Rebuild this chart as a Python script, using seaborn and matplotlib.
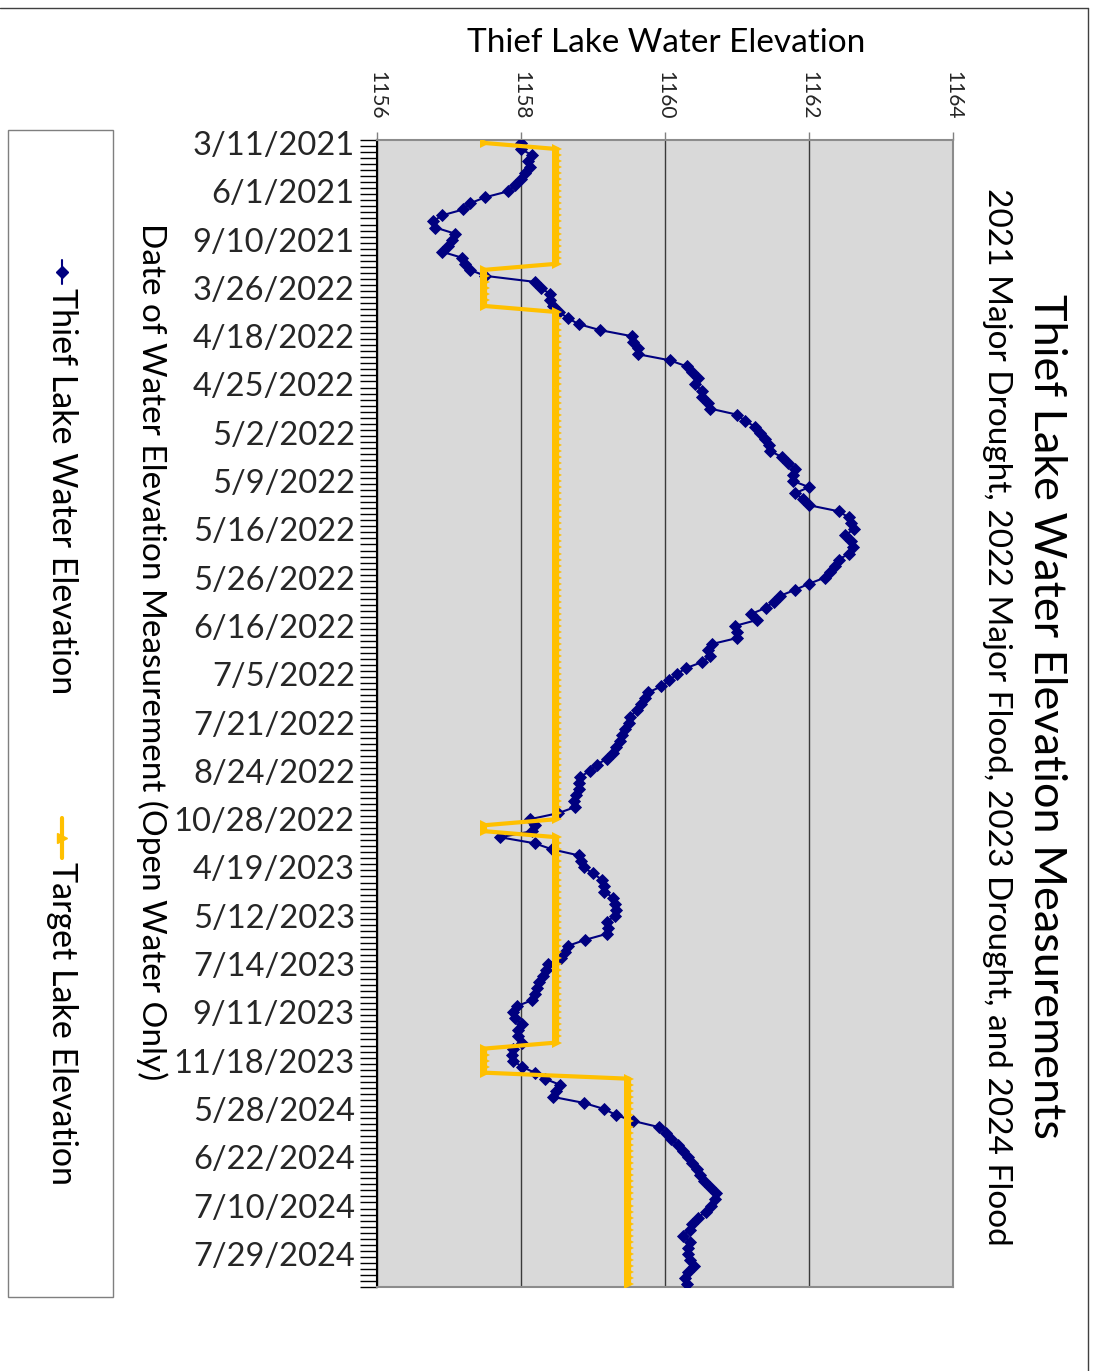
import numpy as np
import pandas as pd
import matplotlib
matplotlib.use("Agg")
import matplotlib.pyplot as plt
import seaborn as sns
from matplotlib.lines import Line2D
from matplotlib.patches import Rectangle

# Measured lake elevations (ft), one per open-water survey, in survey order
lake_elevation = [
    1158.00, 1158.00, 1158.15, 1158.10, 1158.13, 1158.06, 1158.00, 1157.92, 1157.82, 1157.50,
    1157.29, 1157.20, 1156.90, 1156.78, 1156.81, 1157.08, 1157.04, 1156.99, 1156.90, 1157.18,
    1157.22, 1157.29, 1157.50, 1158.19, 1158.28, 1158.40, 1158.40, 1158.45, 1158.53, 1158.65,
    1158.80, 1159.10, 1159.54, 1159.56, 1159.63, 1159.63, 1160.07, 1160.30, 1160.37, 1160.46,
    1160.42, 1160.51, 1160.51, 1160.60, 1160.63, 1161.00, 1161.11, 1161.25, 1161.32, 1161.39,
    1161.44, 1161.46, 1161.62, 1161.71, 1161.81, 1161.78, 1161.78, 1162.00, 1161.81, 1161.91,
    1162.00, 1162.41, 1162.55, 1162.59, 1162.62, 1162.50, 1162.59, 1162.61, 1162.56, 1162.41,
    1162.36, 1162.29, 1162.22, 1162.00, 1161.81, 1161.60, 1161.51, 1161.40, 1161.20, 1161.28,
    1160.97, 1161.00, 1161.00, 1160.65, 1160.60, 1160.63, 1160.51, 1160.29, 1160.16, 1160.06,
    1159.95, 1159.77, 1159.72, 1159.66, 1159.61, 1159.51, 1159.50, 1159.44, 1159.40, 1159.38,
    1159.32, 1159.28, 1159.19, 1159.05, 1158.96, 1158.82, 1158.80, 1158.80, 1158.76, 1158.73,
    1158.75, 1158.52, 1158.13, 1158.19, 1158.15, 1157.71, 1158.19, 1158.43, 1158.80, 1158.84,
    1158.87, 1159.00, 1159.12, 1159.15, 1159.15, 1159.28, 1159.31, 1159.32, 1159.31, 1159.19,
    1159.21, 1159.19, 1158.89, 1158.65, 1158.61, 1158.56, 1158.38, 1158.35, 1158.31, 1158.25,
    1158.22, 1158.19, 1158.15, 1157.94, 1157.89, 1157.92, 1158.01, 1157.96, 1157.96, 1158.01,
    1157.89, 1157.87, 1157.89, 1158.01, 1158.19, 1158.33, 1158.54, 1158.49, 1158.44, 1158.87,
    1159.15, 1159.32, 1159.56, 1159.91, 1160.02, 1160.09, 1160.18, 1160.25, 1160.32, 1160.38,
    1160.44, 1160.49, 1160.54, 1160.62, 1160.71, 1160.69, 1160.64, 1160.57, 1160.46, 1160.37,
    1160.35, 1160.25, 1160.35, 1160.32, 1160.32, 1160.35, 1160.40, 1160.32, 1160.28, 1160.30,
]

# Management target for each survey: fall drawdown, summer level, 2024 raised level
target_elevation = ([1157.5] + [1158.5] * 20 + [1157.5] * 7 + [1158.5] * 85
                    + [1157.5] * 2 + [1158.5] * 35 + [1157.5] * 5 + [1159.5] * 35)

# Survey dates shown on the category axis (every 8th survey)
date_labels = ["3/11/2021", "6/1/2021", "9/10/2021", "3/26/2022", "4/18/2022",
               "4/25/2022", "5/2/2022", "5/9/2022", "5/16/2022", "5/26/2022",
               "6/16/2022", "7/5/2022", "7/21/2022", "8/24/2022", "10/28/2022",
               "4/19/2023", "5/12/2023", "7/14/2023", "9/11/2023", "11/18/2023",
               "5/28/2024", "6/22/2024", "7/10/2024", "7/29/2024"]
label_step = 8

elevation_ticks = [1156, 1158, 1160, 1162, 1164]

n = len(lake_elevation)
df = pd.DataFrame({
    "survey": np.arange(n),
    "Thief Lake Water Elevation": lake_elevation,
    "Target Lake Elevation": target_elevation,
})

sns.set_style("white")
plt.rcParams["font.family"] = ["Lato", "DejaVu Sans"]
plt.rcParams["text.color"] = "#000000"

W, H = 1094, 1371
fig = plt.figure(figsize=(W / 100, H / 100), dpi=100)

def fx(px):
    return px / W

def fy(py):
    return 1 - py / H

# plot area (page is laid out sideways: elevation runs left->right, surveys top->bottom)
ax = fig.add_axes([fx(377), fy(1287), fx(953) - fx(377), fy(140) - fy(1287)])
ax.set_facecolor("#D9D9D9")

navy = "#000080"
gold = "#FFC000"
diamond_size = 5.9
triangle_size = 6.5

sns.lineplot(data=df, x="Thief Lake Water Elevation", y="survey", orient="y",
             sort=False, errorbar=None, color=navy, lw=1.5, marker="D",
             markersize=diamond_size, markeredgewidth=0.6, markeredgecolor=navy,
             ax=ax, zorder=3)
sns.lineplot(data=df, x="Target Lake Elevation", y="survey", orient="y",
             sort=False, errorbar=None, color=gold, lw=3, marker=">",
             markersize=triangle_size, markeredgewidth=0, markerfacecolor=gold,
             ax=ax, zorder=4)

ax.set_xlim(1156, 1164)
ax.set_ylim(n - 0.5, -0.5)
ax.set_xlabel("")
ax.set_ylabel("")

# elevation axis along the top, labels turned to read downward
ax.xaxis.tick_top()
ax.set_xticks(elevation_ticks)
ax.set_xticklabels([str(t) for t in elevation_ticks], rotation=-90, fontsize=15)
ax.tick_params(axis="x", which="major", direction="out", length=6, width=1,
               color="#808080", pad=9)
ax.grid(axis="x", color="#3a3a3a", lw=1.0)
ax.grid(axis="y", visible=False)

# category axis: a tick at every survey boundary, label every 8th survey
ax.set_yticks(np.arange(0, n, label_step))
ax.set_yticklabels(date_labels, fontsize=23.5)
ax.set_yticks(np.arange(-0.5, n, 1.0), minor=True)
ax.tick_params(axis="y", which="major", length=0, pad=16)
ax.tick_params(axis="y", which="minor", direction="out", length=12, width=1,
               color="#000000", left=True)

for side in ["top", "right", "bottom"]:
    ax.spines[side].set_color("#8c8c8c")
    ax.spines[side].set_linewidth(1.5)
ax.spines["left"].set_color("#000000")
ax.spines["left"].set_linewidth(1.5)

if ax.get_legend() is not None:
    ax.get_legend().remove()

# titles
fig.text(fx(1047), fy(716), "Thief Lake Water Elevation Measurements",
         rotation=-90, ha="center", va="center", fontsize=32.5)
fig.text(fx(997), fy(717),
         "2021 Major Drought, 2022 Major Flood, 2023 Drought, and 2024 Flood",
         rotation=-90, ha="center", va="center", fontsize=24)
fig.text(fx(152), fy(652), "Date of Water Elevation Measurement (Open Water Only)",
         rotation=-90, ha="center", va="center", fontsize=24)
fig.text(fx(666), fy(43), "Thief Lake Water Elevation",
         ha="center", va="center", fontsize=24)

# legend panel, laid out sideways
fig.add_artist(Rectangle((fx(8), fy(1297)), fx(113) - fx(8), fy(130) - fy(1297),
                         transform=fig.transFigure, fill=False,
                         edgecolor="#7f7f7f", lw=1))
legend_entries = [("Thief Lake Water Elevation", navy, "D", diamond_size, 1.5, 260, 284),
                  ("Target Lake Elevation", gold, ">", triangle_size, 3, 818, 858)]
for label, color, mk, ms, lw, y0, y1 in legend_entries:
    fig.add_artist(Line2D([fx(62), fx(62)], [fy(y0), fy(y1)], transform=fig.transFigure,
                          color=color, lw=lw))
    fig.add_artist(Line2D([fx(62)], [fy((y0 + y1) / 2)], transform=fig.transFigure,
                          color=color, marker=mk, ms=ms, mec=color, mfc=color))
    fig.text(fx(62), fy(y1 + 4), label, rotation=-90, ha="center", va="top",
             fontsize=24.5)

# outer chart frame
fig.add_artist(Line2D([0, fx(1088)], [fy(8), fy(8)], transform=fig.transFigure,
                      color="#404040", lw=1))
fig.add_artist(Line2D([fx(1088), fx(1088)], [fy(8), 0], transform=fig.transFigure,
                      color="#404040", lw=1))

fig.savefig("out.png", dpi=100)
